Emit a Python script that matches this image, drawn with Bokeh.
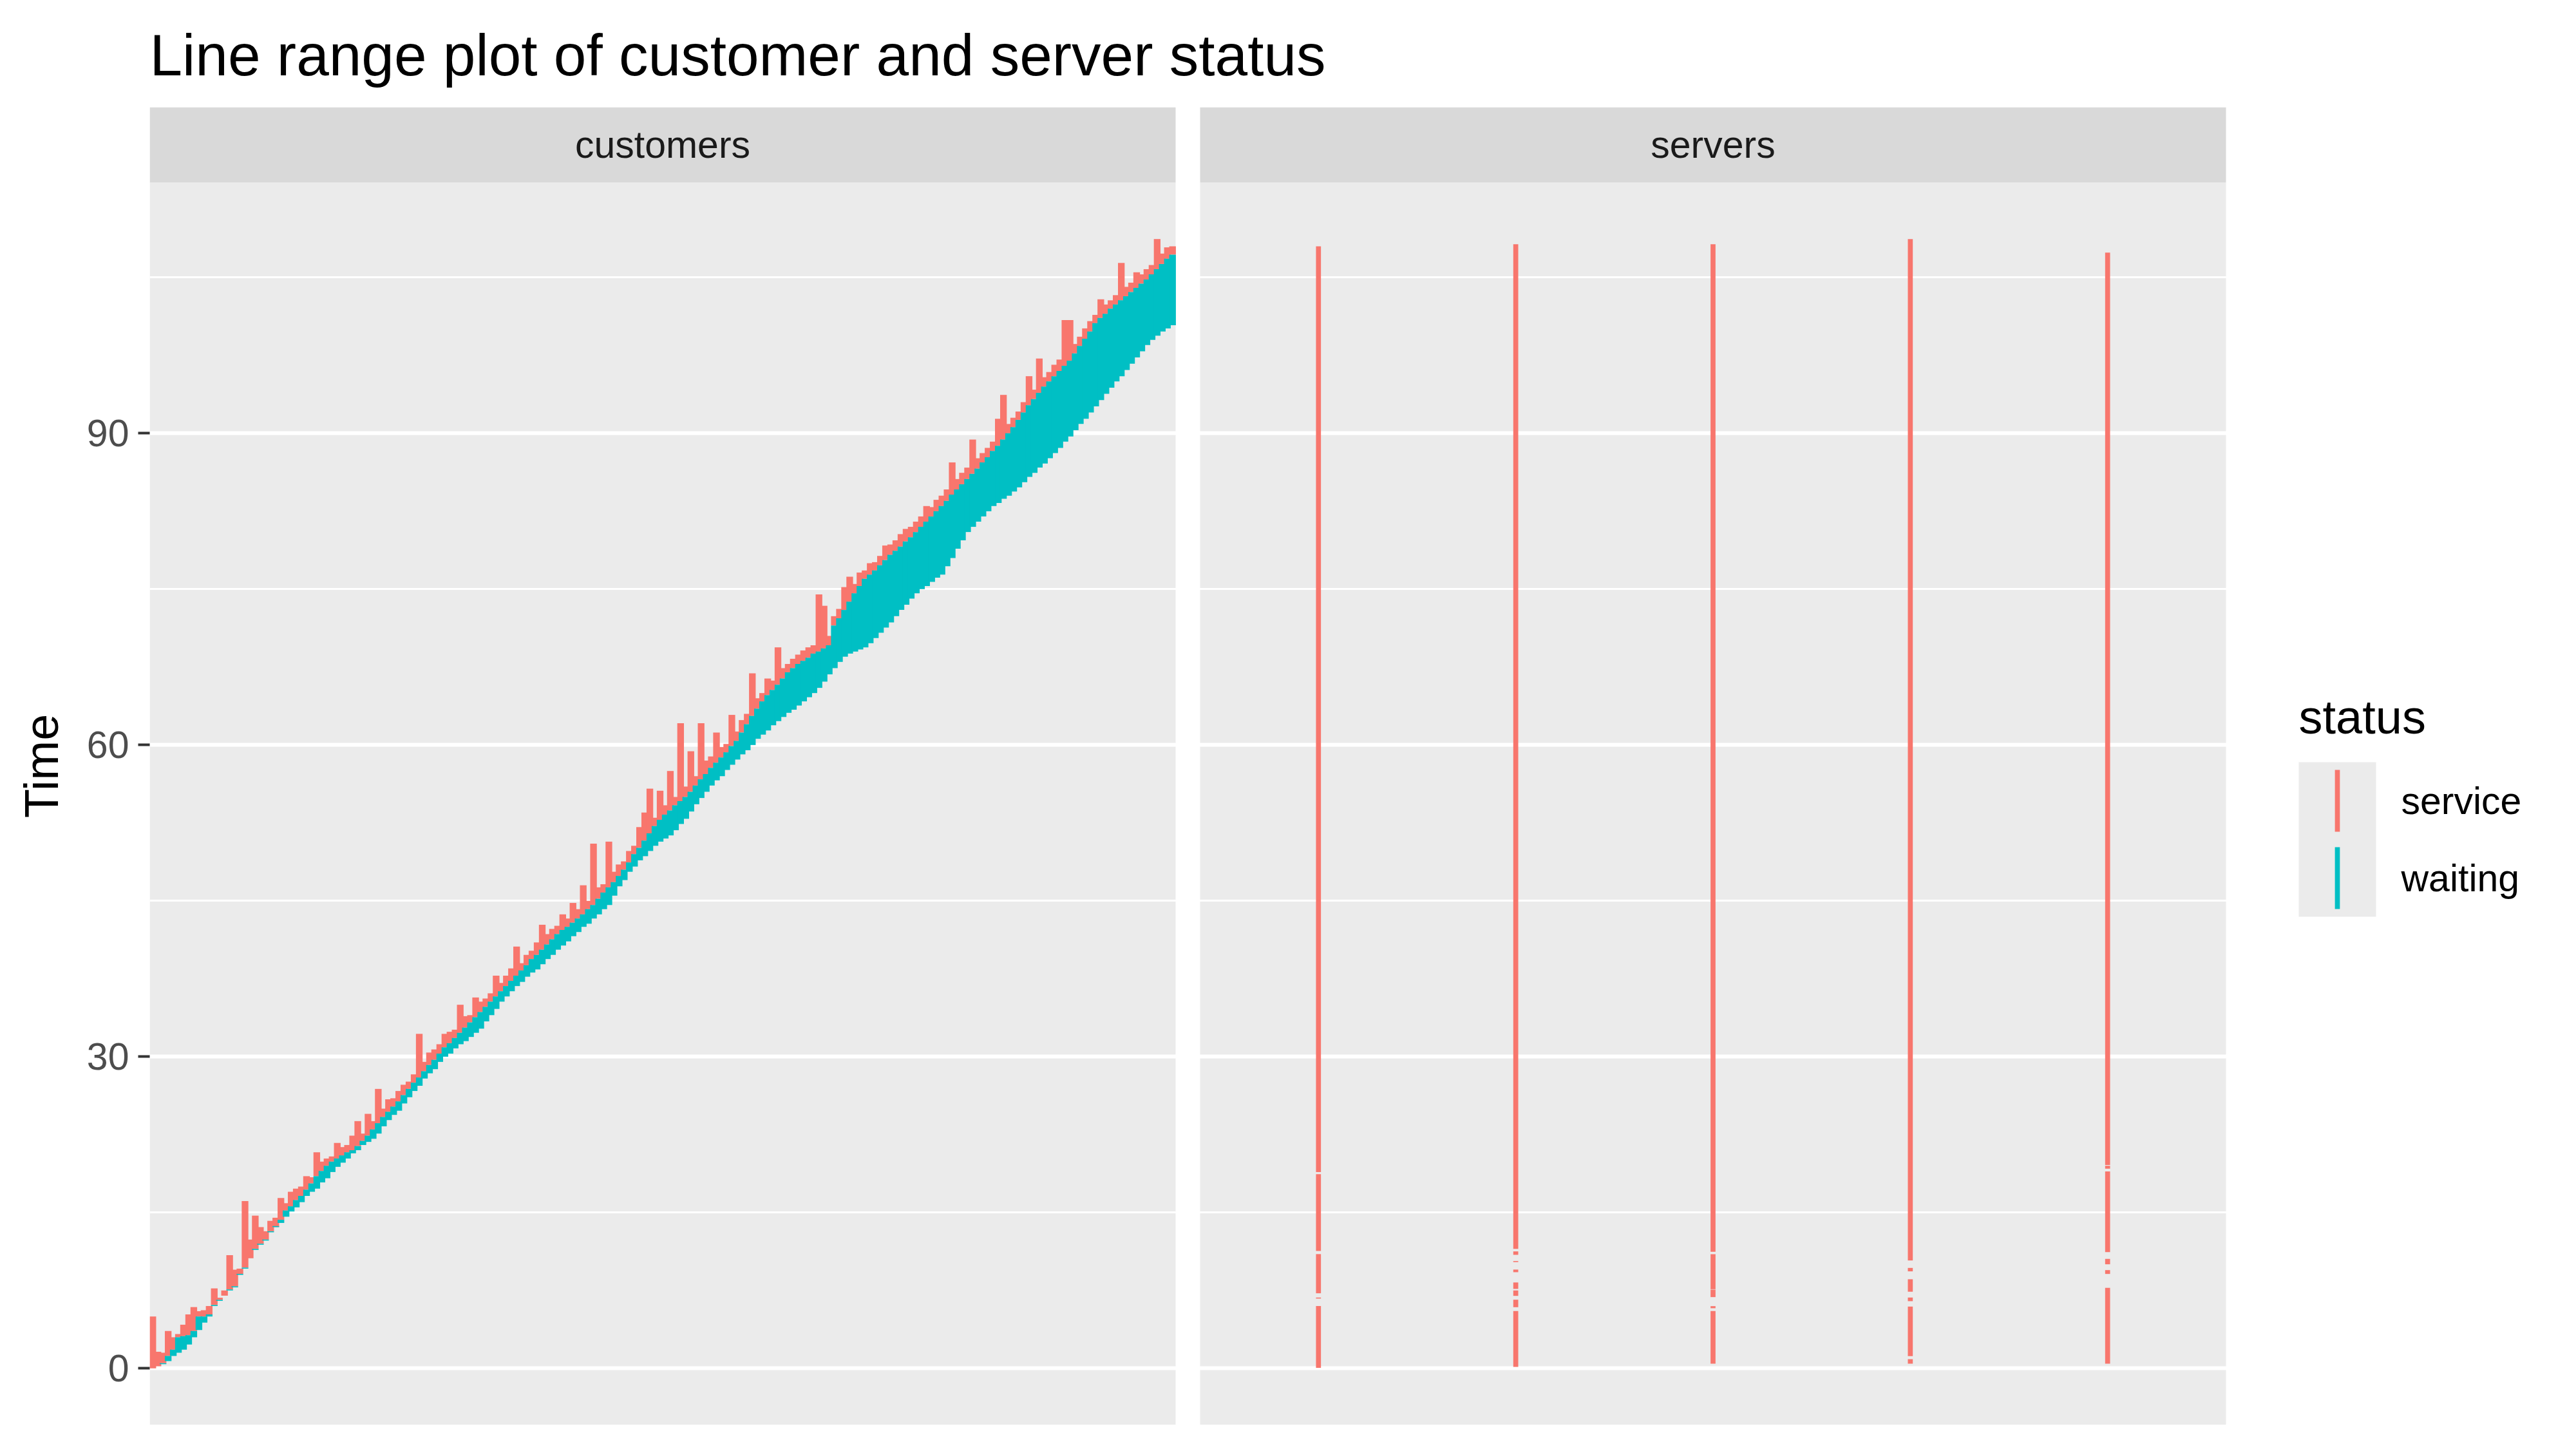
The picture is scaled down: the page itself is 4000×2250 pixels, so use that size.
from bokeh.plotting import figure
from bokeh.models import Range1d, FixedTicker, ColumnDataSource
from bokeh.embed import file_html
from bokeh.resources import INLINE
from bokeh.core.properties import value

# ---------------- data ----------------
customer_id = list(range(1, 201))
arrival = [
    0.0, 0.2, 0.4, 0.7, 1.2, 1.5, 1.8, 2.3, 3.0, 3.7,
    4.4, 5.0, 6.0, 6.5, 7.0, 7.5, 7.8, 9.0, 9.6, 10.6,
    11.4, 11.9, 12.3, 13.1, 13.7, 14.0, 14.6, 15.1, 15.5, 16.0,
    16.6, 17.0, 17.3, 17.9, 18.3, 18.9, 19.4, 19.8, 20.2, 20.7,
    21.0, 21.5, 21.8, 22.1, 22.6, 23.3, 23.9, 24.4, 24.8, 25.5,
    26.1, 26.7, 27.2, 27.9, 28.4, 28.8, 29.5, 30.0, 30.3, 30.8,
    31.2, 31.5, 31.9, 32.3, 32.7, 33.4, 34.0, 34.6, 35.3, 35.8,
    36.3, 36.8, 37.2, 37.7, 38.1, 38.4, 38.9, 39.4, 39.8, 40.3,
    40.7, 41.1, 41.6, 42.0, 42.5, 42.8, 43.3, 43.7, 44.2, 44.6,
    45.5, 46.4, 47.0, 47.8, 48.3, 48.9, 49.3, 49.8, 50.3, 50.7,
    51.0, 51.3, 51.8, 52.4, 52.9, 53.6, 54.3, 54.9, 55.5, 56.1,
    56.6, 57.0, 57.6, 58.1, 58.6, 59.1, 59.5, 60.0, 60.6, 61.0,
    61.4, 61.9, 62.3, 62.7, 63.1, 63.4, 63.8, 64.2, 64.6, 65.0,
    65.5, 66.1, 66.8, 67.4, 68.0, 68.5, 68.8, 69.0, 69.2, 69.4,
    69.8, 70.3, 70.8, 71.3, 71.8, 72.4, 73.0, 73.5, 74.1, 74.6,
    75.0, 75.3, 75.7, 76.1, 76.4, 77.2, 78.0, 78.9, 79.7, 80.5,
    81.0, 81.5, 82.0, 82.5, 83.0, 83.3, 83.7, 84.0, 84.4, 84.8,
    85.3, 85.8, 86.2, 86.7, 87.1, 87.6, 88.1, 88.6, 89.2, 89.7,
    90.3, 90.9, 91.4, 92.0, 92.6, 93.2, 93.8, 94.4, 95.0, 95.5,
    96.1, 96.7, 97.3, 97.9, 98.5, 99.0, 99.4, 99.8, 100.1, 100.4,
]
service_start = [
    0.0, 0.2, 0.5, 1.2, 1.8, 3.0, 3.1, 3.2, 3.6, 5.0,
    5.0, 5.2, 6.1, 6.6, 7.0, 7.6, 7.9, 9.1, 9.7, 10.6,
    11.5, 12.0, 12.4, 13.2, 13.6, 14.3, 15.2, 15.6, 16.2, 16.6,
    17.2, 17.8, 18.5, 19.0, 19.5, 19.9, 20.2, 20.5, 20.8, 21.0,
    21.4, 21.9, 22.4, 23.0, 23.6, 24.2, 24.7, 25.2, 25.7, 26.3,
    26.9, 27.5, 28.0, 28.6, 29.2, 29.7, 30.3, 30.9, 31.3, 31.8,
    32.3, 32.8, 33.3, 33.8, 34.3, 34.8, 35.3, 35.8, 36.3, 36.8,
    37.3, 37.8, 38.3, 38.8, 39.4, 39.8, 40.3, 40.8, 41.3, 41.8,
    42.2, 42.5, 42.9, 43.3, 43.7, 44.2, 44.6, 45.2, 45.8, 46.3,
    46.8, 47.4, 48.0, 48.7, 49.5, 50.1, 50.8, 51.5, 52.2, 52.8,
    53.3, 53.7, 54.2, 54.6, 55.0, 55.5, 56.1, 56.7, 57.2, 57.8,
    58.3, 58.8, 59.3, 59.9, 60.4, 61.2, 62.0, 62.8, 63.5, 64.2,
    64.8, 65.3, 65.8, 66.4, 67.0, 67.4, 67.8, 68.1, 68.4, 68.8,
    69.0, 69.3, 69.6, 71.5, 72.2, 73.0, 73.8, 74.6, 75.3, 76.0,
    76.4, 76.8, 77.3, 77.8, 78.3, 78.7, 79.1, 79.6, 80.0, 80.5,
    81.0, 81.5, 82.0, 82.5, 83.0, 83.5, 84.1, 84.6, 85.1, 85.6,
    86.1, 86.6, 87.2, 87.7, 88.3, 88.8, 89.4, 90.0, 90.6, 91.3,
    92.0, 92.7, 93.3, 93.9, 94.5, 95.0, 95.5, 96.0, 96.5, 97.0,
    97.7, 98.4, 99.1, 99.8, 100.6, 101.1, 101.5, 102.0, 102.4, 102.8,
    103.2, 103.6, 104.0, 104.4, 104.8, 105.3, 105.8, 106.3, 106.8, 107.2,
]
service_end = [
    5.0, 1.6, 1.5, 3.6, 3.0, 3.3, 4.2, 5.2, 5.9, 5.5,
    5.6, 6.0, 7.7, 6.8, 7.5, 10.9, 9.5, 9.6, 16.1, 12.4,
    14.7, 13.6, 13.2, 14.2, 14.5, 16.4, 15.9, 17.0, 17.3, 17.5,
    18.5, 18.4, 20.8, 19.9, 20.2, 20.4, 21.7, 21.3, 21.5, 22.4,
    23.8, 22.6, 24.5, 23.8, 26.9, 25.0, 25.9, 26.0, 26.7, 27.3,
    27.6, 28.3, 32.2, 29.5, 30.4, 30.7, 31.2, 32.2, 32.4, 32.6,
    35.0, 33.9, 34.0, 35.7, 35.3, 35.6, 36.1, 37.8, 37.1, 37.8,
    38.5, 40.6, 39.0, 39.8, 40.2, 41.0, 42.7, 41.8, 42.3, 42.6,
    43.7, 43.3, 44.8, 44.2, 46.5, 45.0, 50.5, 46.3, 46.6, 50.7,
    47.8, 48.5, 48.8, 49.8, 50.3, 52.1, 53.5, 55.8, 53.0, 55.6,
    54.2, 57.5, 55.0, 62.1, 56.0, 59.4, 57.0, 62.1, 58.5, 58.9,
    61.2, 59.8, 60.1, 62.9, 61.3, 62.4, 63.0, 66.9, 64.5, 65.0,
    66.4, 66.2, 69.4, 67.4, 67.8, 68.3, 68.7, 69.1, 69.4, 69.6,
    74.5, 73.4, 70.5, 72.4, 73.1, 75.2, 76.2, 75.5, 76.6, 76.8,
    77.5, 77.6, 78.2, 79.2, 79.3, 79.7, 80.3, 80.8, 81.0, 81.5,
    82.0, 83.0, 82.9, 83.6, 84.0, 84.6, 87.2, 85.6, 86.2, 86.7,
    89.4, 87.6, 88.1, 88.6, 89.2, 91.4, 93.7, 90.9, 91.5, 92.1,
    93.0, 95.5, 94.2, 97.2, 95.4, 95.9, 96.6, 97.1, 100.9, 100.9,
    98.6, 99.3, 100.1, 100.8, 101.4, 102.9, 102.4, 102.8, 103.3, 106.4,
    104.1, 104.5, 105.5, 105.3, 105.8, 106.2, 108.7, 107.3, 107.9, 108.0,
]

server_names = ["server1", "server2", "server3", "server4", "server5"]
seg_server = [1, 1, 1, 1, 1,
              2, 2, 2, 2, 2, 2, 2, 2,
              3, 3, 3, 3, 3,
              4, 4, 4, 4, 4, 4,
              5, 5, 5, 5, 5, 5]
seg_start = [0.05, 6.72, 7.23, 11.3, 18.9,
             0.14, 5.89, 6.98, 7.65, 9.26, 10.23, 10.93, 11.51,
             0.45, 5.79, 6.86, 7.62, 11.22,
             0.45, 1.18, 6.47, 7.38, 9.34, 10.39,
             0.45, 9.09, 10.02, 11.2, 19.22, 19.57]
seg_end = [6.0, 6.82, 11.0, 18.7, 108.0,
           5.52, 6.61, 7.50, 8.27, 9.51, 10.33, 11.26, 108.2,
           5.52, 5.99, 7.58, 10.99, 108.2,
           0.89, 5.95, 6.82, 8.58, 9.67, 108.7,
           7.75, 9.46, 10.54, 18.95, 19.5, 107.4]

facet_labels = ["customers", "servers"]
status_labels = ["service", "waiting"]
status_colors = ["#F8766D", "#00BFC4"]
y_major_ticks = [0, 30, 60, 90]
y_minor_ticks = [15, 45, 75, 105]
title_text = "Line range plot of customer and server status"
y_title = "Time"

# ---------------- layout constants (pixels) ----------------
W, H = 4000, 2250
FRAME_L, FRAME_R, FRAME_T, FRAME_B = 232, 4000, 166, 2212
STRIP_H = 117
P1_L, P1_R = 232, 1825
P2_L, P2_R = 1863, 3456
FONT = "Liberation Sans"

# y scale (ggplot 5% expansion)
all_vals = arrival + service_start + service_end + seg_start + seg_end
ymin_d, ymax_d = min(all_vals), max(all_vals)
pad = 0.05 * (ymax_d - ymin_d)
Y_LO, Y_HI = ymin_d - pad, ymax_d + pad
ppu_y = (FRAME_B - (FRAME_T + STRIP_H)) / (Y_HI - Y_LO)
Y_TOP = Y_HI + STRIP_H / ppu_y

# x scale for customers (discrete, 0.6 expansion)
N = len(customer_id)
cx_lo, cx_hi = 0.4, N + 0.6
ppu_c = (P1_R - P1_L) / (cx_hi - cx_lo)
cx_start = cx_lo - (P1_L - FRAME_L) / ppu_c
cx_end = cx_start + (FRAME_R - FRAME_L) / ppu_c

# x scale for servers
S = len(server_names)
sx_lo, sx_hi = 0.4, S + 0.6
ppu_s = (P2_R - P2_L) / (sx_hi - sx_lo)
sx_start = sx_lo - (P2_L - FRAME_L) / ppu_s
sx_end = sx_start + (FRAME_R - FRAME_L) / ppu_s

p = figure(width=W, height=H, output_backend="svg", toolbar_location=None,
           x_range=Range1d(cx_start, cx_end), y_range=Range1d(Y_LO, Y_TOP),
           x_axis_location=None, y_axis_location="left",
           min_border_left=FRAME_L, min_border_right=W - FRAME_R,
           min_border_top=FRAME_T, min_border_bottom=H - FRAME_B,
           title=title_text)
p.extra_x_ranges = {"srv": Range1d(sx_start, sx_end), "lg": Range1d(FRAME_L, FRAME_R)}
p.extra_y_ranges = {"lg": Range1d(FRAME_B, FRAME_T)}
p.outline_line_color = None
p.background_fill_color = "white"
p.border_fill_color = "white"

p.title.text_font = FONT
p.title.text_font_size = "91px"
p.title.text_font_style = "normal"
p.title.text_color = "black"
p.title.align = "left"
p.title.standoff = 61

# panel + strip backgrounds
p.quad(left=[cx_lo], right=[cx_hi], bottom=[Y_LO], top=[Y_HI], fill_color="#EBEBEB",
       line_color=None, level="image")
p.quad(left=[sx_lo], right=[sx_hi], bottom=[Y_LO], top=[Y_HI], fill_color="#EBEBEB",
       line_color=None, level="image", x_range_name="srv")
p.quad(left=[cx_lo], right=[cx_hi], bottom=[Y_HI], top=[Y_TOP], fill_color="#D9D9D9",
       line_color=None, level="image")
p.quad(left=[sx_lo], right=[sx_hi], bottom=[Y_HI], top=[Y_TOP], fill_color="#D9D9D9",
       line_color=None, level="image", x_range_name="srv")

# axis + grid
ticker = FixedTicker(ticks=y_major_ticks, minor_ticks=y_minor_ticks)
ax = p.yaxis[0]
ax.ticker = ticker
ax.bounds = (Y_LO, Y_HI)
ax.axis_line_color = None
ax.major_tick_line_color = "#333333"
ax.major_tick_line_width = 4
ax.major_tick_out = 18
ax.major_tick_in = 0
ax.minor_tick_line_color = None
ax.minor_tick_out = 0
ax.minor_tick_in = 0
ax.major_label_text_font = FONT
ax.major_label_text_font_size = "59px"
ax.major_label_text_color = "#4D4D4D"
ax.major_label_standoff = 14
ax.axis_label = y_title
ax.axis_label_text_font = FONT
ax.axis_label_text_font_size = "74px"
ax.axis_label_text_font_style = "normal"
ax.axis_label_text_color = "black"
ax.axis_label_standoff = 26

for g in p.xgrid:
    g.visible = False
yg = p.ygrid[0]
yg.ticker = ticker
yg.grid_line_color = "white"
yg.grid_line_width = 6
yg.minor_grid_line_color = "white"
yg.minor_grid_line_width = 3
yg.level = "underlay"

# customers: service then waiting
src = ColumnDataSource(dict(x=customer_id, a=arrival, s=service_start, e=service_end))
p.vbar(x="x", bottom="s", top="e", width=1.3, source=src,
       fill_color=status_colors[0], line_color=None)
p.vbar(x="x", bottom="a", top="s", width=1.3, source=src,
       fill_color=status_colors[1], line_color=None)

# servers
ssrc = ColumnDataSource(dict(x=seg_server, y0=seg_start, y1=seg_end))
p.segment(x0="x", y0="y0", x1="x", y1="y1", source=ssrc, line_color=status_colors[0],
          line_width=7.7, line_cap="butt", x_range_name="srv")

# strip labels
y_strip = (Y_HI + Y_TOP) / 2
p.text(x=[(cx_lo + cx_hi) / 2], y=[y_strip], text=[facet_labels[0]],
       text_font=value(FONT), text_font_size=value("59px"), text_color="#1A1A1A",
       text_align="center", text_baseline="middle")
p.text(x=[(sx_lo + sx_hi) / 2], y=[y_strip], text=[facet_labels[1]],
       text_font=value(FONT), text_font_size=value("59px"), text_color="#1A1A1A",
       text_align="center", text_baseline="middle", x_range_name="srv")

# legend (drawn in pixel-mapped range)
LG_X, LG_TITLE_Y, KEY_TOP, KEY_W, KEY_H = 3569, 1113, 1183, 120, 120
p.text(x=[LG_X], y=[LG_TITLE_Y], text=["status"], text_font=value(FONT),
       text_font_size=value("74px"), text_color="black", text_align="left",
       text_baseline="alphabetic", x_range_name="lg", y_range_name="lg")
p.quad(left=[LG_X], right=[LG_X + KEY_W], top=[KEY_TOP], bottom=[KEY_TOP + 2 * KEY_H],
       fill_color="#EBEBEB", line_color=None, x_range_name="lg", y_range_name="lg")
for k, (lab, col) in enumerate(zip(status_labels, status_colors)):
    yc = KEY_TOP + KEY_H * (k + 0.5)
    p.segment(x0=[LG_X + KEY_W / 2], x1=[LG_X + KEY_W / 2], y0=[yc - 48], y1=[yc + 48],
              line_color=col, line_width=7.7, line_cap="butt",
              x_range_name="lg", y_range_name="lg")
    p.text(x=[LG_X + KEY_W + 39], y=[yc], text=[lab], text_font=value(FONT),
           text_font_size=value("59px"), text_color="black", text_align="left",
           text_baseline="middle", x_range_name="lg", y_range_name="lg")

open("out.html", "w").write(file_html(p, INLINE))
